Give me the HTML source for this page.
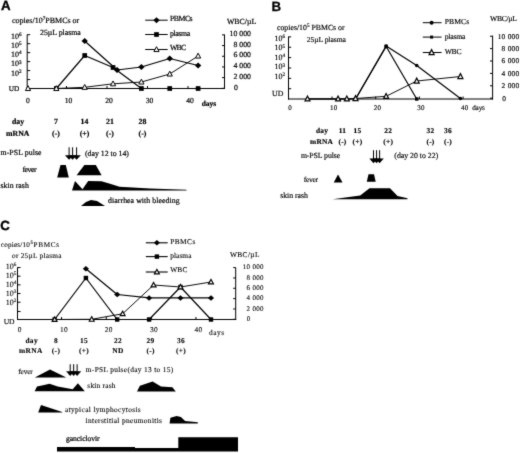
<!DOCTYPE html>
<html><head><meta charset="utf-8"><title>Figure</title>
<style>
html,body{margin:0;padding:0;background:#fff;}
svg{display:block;}
text{text-rendering:geometricPrecision;}
.ff-s{font-family:"Liberation Serif",serif;}
.ff-a{font-family:"Liberation Sans",sans-serif;}
text{fill:#000;}
</style></head><body>
<svg width="520" height="453" viewBox="0 0 520 453">
<defs><filter id="soft" x="0" y="0" width="520" height="453" filterUnits="userSpaceOnUse" color-interpolation-filters="sRGB"><feConvolveMatrix order="3" kernelMatrix="0.02 0.08 0.02 0.08 0.6 0.08 0.02 0.08 0.02" edgeMode="duplicate" preserveAlpha="false"/></filter></defs>
<g filter="url(#soft)">
<rect width="520" height="453" fill="#fff"/>
<text x="1" y="10.1" font-size="13.3" text-anchor="start" class="ff-a" font-weight="bold" stroke="#000" stroke-width="0.35">A</text>
<text x="12" y="22.5" font-size="8" class="ff-s" stroke="#000" stroke-width="0.2">copies/10<tspan font-size="5.2" dy="-3">7</tspan><tspan dy="3">PBMCs or</tspan></text>
<text x="40" y="34.5" font-size="7.8" text-anchor="start" class="ff-s" stroke="#000" stroke-width="0.2">25µL plasma</text>
<line x1="27.2" y1="34.5" x2="27.2" y2="89.0" stroke="#000" stroke-width="1"/>
<line x1="27" y1="88.5" x2="225" y2="88.5" stroke="#000" stroke-width="1"/>
<line x1="224.5" y1="34.5" x2="224.5" y2="89.0" stroke="#000" stroke-width="1"/>
<text x="21.5" y="38.5" font-size="8" text-anchor="end" class="ff-s" stroke="#000" stroke-width="0.2">10<tspan font-size="5.2" dy="-2.8">6</tspan></text>
<text x="21.5" y="47.6" font-size="8" text-anchor="end" class="ff-s" stroke="#000" stroke-width="0.2">10<tspan font-size="5.2" dy="-2.8">5</tspan></text>
<text x="21.5" y="56.5" font-size="8" text-anchor="end" class="ff-s" stroke="#000" stroke-width="0.2">10<tspan font-size="5.2" dy="-2.8">4</tspan></text>
<text x="21.5" y="66.4" font-size="8" text-anchor="end" class="ff-s" stroke="#000" stroke-width="0.2">10<tspan font-size="5.2" dy="-2.8">3</tspan></text>
<text x="21.5" y="75.60000000000001" font-size="8" text-anchor="end" class="ff-s" stroke="#000" stroke-width="0.2">10<tspan font-size="5.2" dy="-2.8">2</tspan></text>
<line x1="27.2" y1="34.7" x2="30.2" y2="34.7" stroke="#000" stroke-width="1"/>
<line x1="27.2" y1="43.67" x2="30.2" y2="43.67" stroke="#000" stroke-width="1"/>
<line x1="27.2" y1="52.64" x2="30.2" y2="52.64" stroke="#000" stroke-width="1"/>
<line x1="27.2" y1="61.61000000000001" x2="30.2" y2="61.61000000000001" stroke="#000" stroke-width="1"/>
<line x1="27.2" y1="70.58000000000001" x2="30.2" y2="70.58000000000001" stroke="#000" stroke-width="1"/>
<line x1="27.2" y1="79.55000000000001" x2="30.2" y2="79.55000000000001" stroke="#000" stroke-width="1"/>
<text x="8.8" y="90.5" font-size="7.3" text-anchor="start" class="ff-s" letter-spacing="-0.144" stroke="#000" stroke-width="0.2">UD</text>
<line x1="66.5" y1="86.0" x2="66.5" y2="88.5" stroke="#000" stroke-width="1"/>
<line x1="107.0" y1="86.0" x2="107.0" y2="88.5" stroke="#000" stroke-width="1"/>
<line x1="147.5" y1="86.0" x2="147.5" y2="88.5" stroke="#000" stroke-width="1"/>
<line x1="188.0" y1="86.0" x2="188.0" y2="88.5" stroke="#000" stroke-width="1"/>
<text x="28.0" y="103" font-size="7.6" text-anchor="middle" class="ff-s" stroke="#000" stroke-width="0.2">0</text>
<text x="68.5" y="103" font-size="7.6" text-anchor="middle" class="ff-s" stroke="#000" stroke-width="0.2">10</text>
<text x="109.0" y="103" font-size="7.6" text-anchor="middle" class="ff-s" stroke="#000" stroke-width="0.2">20</text>
<text x="149.5" y="103" font-size="7.6" text-anchor="middle" class="ff-s" stroke="#000" stroke-width="0.2">30</text>
<text x="190.0" y="103" font-size="7.6" text-anchor="middle" class="ff-s" stroke="#000" stroke-width="0.2">40</text>
<text x="201.7" y="106.4" font-size="7.5" text-anchor="start" class="ff-s" font-weight="bold" stroke="#000" stroke-width="0.2">days</text>
<line x1="222" y1="34.9" x2="224.5" y2="34.9" stroke="#000" stroke-width="1"/>
<text x="251" y="36.1" font-size="7.8" text-anchor="end" class="ff-s" stroke="#000" stroke-width="0.2">10 000</text>
<line x1="222" y1="45.58" x2="224.5" y2="45.58" stroke="#000" stroke-width="1"/>
<text x="251" y="46.78" font-size="7.8" text-anchor="end" class="ff-s" stroke="#000" stroke-width="0.2">8 000</text>
<line x1="222" y1="56.26" x2="224.5" y2="56.26" stroke="#000" stroke-width="1"/>
<text x="251" y="57.46" font-size="7.8" text-anchor="end" class="ff-s" stroke="#000" stroke-width="0.2">6 000</text>
<line x1="222" y1="66.94" x2="224.5" y2="66.94" stroke="#000" stroke-width="1"/>
<text x="251" y="68.14" font-size="7.8" text-anchor="end" class="ff-s" stroke="#000" stroke-width="0.2">4 000</text>
<line x1="222" y1="77.62" x2="224.5" y2="77.62" stroke="#000" stroke-width="1"/>
<text x="251" y="78.82000000000001" font-size="7.8" text-anchor="end" class="ff-s" stroke="#000" stroke-width="0.2">2 000</text>
<line x1="222" y1="88.3" x2="224.5" y2="88.3" stroke="#000" stroke-width="1"/>
<text x="238" y="89.5" font-size="7.8" text-anchor="end" class="ff-s" stroke="#000" stroke-width="0.2">0</text>
<text x="227" y="23.5" font-size="7.8" text-anchor="start" class="ff-s" stroke="#000" stroke-width="0.2">WBC/µL</text>
<line x1="145.2" y1="20.2" x2="167.7" y2="20.2" stroke="#000" stroke-width="1.0"/>
<polygon points="153.3,20.2 156.5,17.2 159.7,20.2 156.5,23.2" fill="#000" stroke="none" stroke-width="1"/>
<text x="169.9" y="21.3" font-size="7.8" text-anchor="start" class="ff-s" letter-spacing="-0.487" stroke="#000" stroke-width="0.2">PBMCs</text>
<line x1="145.2" y1="34.5" x2="167.7" y2="34.5" stroke="#000" stroke-width="1.0"/>
<rect x="154.15" y="32.15" width="4.7" height="4.7" fill="#000"/>
<text x="169.9" y="35.6" font-size="7.8" text-anchor="start" class="ff-s" letter-spacing="-0.352" stroke="#000" stroke-width="0.2">plasma</text>
<line x1="145.2" y1="49.5" x2="167.7" y2="49.5" stroke="#000" stroke-width="1.0"/>
<polygon points="153.9,51.558 156.5,46.658 159.1,51.558" fill="#fff" stroke="#000" stroke-width="1.0"/>
<text x="169.9" y="49.9" font-size="7.8" text-anchor="start" class="ff-s" letter-spacing="-0.711" stroke="#000" stroke-width="0.2">WBC</text>
<polyline points="56.349999999999994,88.5 84.69999999999999,55.5 113.05,67.5 141.39999999999998,88.5 169.75,88.5 198.1,88.5" fill="none" stroke="#000" stroke-width="1.2" stroke-linejoin="round"/>
<polyline points="84.69999999999999,41 117.1,70 141.39999999999998,67 169.75,58.5 198.1,65.5" fill="none" stroke="#000" stroke-width="1.2" stroke-linejoin="round"/>
<polyline points="28.0,88.5 56.349999999999994,88.5 84.69999999999999,87.3 113.05,83.8 141.39999999999998,82 169.75,74 198.1,56" fill="none" stroke="#000" stroke-width="0.95" stroke-linejoin="round"/>
<rect x="53.99999999999999" y="86.15" width="4.7" height="4.7" fill="#000"/>
<rect x="82.35" y="53.15" width="4.7" height="4.7" fill="#000"/>
<rect x="110.7" y="65.15" width="4.7" height="4.7" fill="#000"/>
<rect x="139.04999999999998" y="86.15" width="4.7" height="4.7" fill="#000"/>
<rect x="167.4" y="86.15" width="4.7" height="4.7" fill="#000"/>
<rect x="195.75" y="86.15" width="4.7" height="4.7" fill="#000"/>
<polygon points="81.49999999999999,41 84.69999999999999,38.0 87.89999999999999,41 84.69999999999999,44.0" fill="#000" stroke="none" stroke-width="1"/>
<polygon points="113.89999999999999,70 117.1,67.0 120.3,70 117.1,73.0" fill="#000" stroke="none" stroke-width="1"/>
<polygon points="138.2,67 141.39999999999998,64.0 144.59999999999997,67 141.39999999999998,70.0" fill="#000" stroke="none" stroke-width="1"/>
<polygon points="166.55,58.5 169.75,55.5 172.95,58.5 169.75,61.5" fill="#000" stroke="none" stroke-width="1"/>
<polygon points="194.9,65.5 198.1,62.5 201.29999999999998,65.5 198.1,68.5" fill="#000" stroke="none" stroke-width="1"/>
<polygon points="25.4,90.558 28.0,85.658 30.6,90.558" fill="#fff" stroke="#000" stroke-width="1.0"/>
<polygon points="53.74999999999999,90.558 56.349999999999994,85.658 58.949999999999996,90.558" fill="#fff" stroke="#000" stroke-width="1.0"/>
<polygon points="82.1,89.358 84.69999999999999,84.458 87.29999999999998,89.358" fill="#fff" stroke="#000" stroke-width="1.0"/>
<polygon points="110.45,85.858 113.05,80.958 115.64999999999999,85.858" fill="#fff" stroke="#000" stroke-width="1.0"/>
<polygon points="138.79999999999998,84.058 141.39999999999998,79.158 143.99999999999997,84.058" fill="#fff" stroke="#000" stroke-width="1.0"/>
<polygon points="167.15,76.058 169.75,71.158 172.35,76.058" fill="#fff" stroke="#000" stroke-width="1.0"/>
<polygon points="195.5,58.058 198.1,53.158 200.7,58.058" fill="#fff" stroke="#000" stroke-width="1.0"/>
<text x="12" y="124" font-size="7.8" text-anchor="start" class="ff-s" font-weight="bold" stroke="#000" stroke-width="0.2">day</text>
<text x="6" y="136.3" font-size="7.8" text-anchor="start" class="ff-s" font-weight="bold" stroke="#000" stroke-width="0.2">mRNA</text>
<text x="56" y="124" font-size="7.8" text-anchor="middle" class="ff-s" font-weight="bold" stroke="#000" stroke-width="0.2">7</text>
<text x="56" y="136.3" font-size="7.8" text-anchor="middle" class="ff-s" font-weight="bold" stroke="#000" stroke-width="0.2">(-)</text>
<text x="84.5" y="124" font-size="7.8" text-anchor="middle" class="ff-s" font-weight="bold" stroke="#000" stroke-width="0.2">14</text>
<text x="84.5" y="136.3" font-size="7.8" text-anchor="middle" class="ff-s" font-weight="bold" stroke="#000" stroke-width="0.2">(+)</text>
<text x="110" y="124" font-size="7.8" text-anchor="middle" class="ff-s" font-weight="bold" stroke="#000" stroke-width="0.2">21</text>
<text x="110" y="136.3" font-size="7.8" text-anchor="middle" class="ff-s" font-weight="bold" stroke="#000" stroke-width="0.2">(-)</text>
<text x="142.5" y="124" font-size="7.8" text-anchor="middle" class="ff-s" font-weight="bold" stroke="#000" stroke-width="0.2">28</text>
<text x="142.5" y="136.3" font-size="7.8" text-anchor="middle" class="ff-s" font-weight="bold" stroke="#000" stroke-width="0.2">(-)</text>
<text x="0.5" y="155.3" font-size="7.8" text-anchor="start" class="ff-s" letter-spacing="0.077" stroke="#000" stroke-width="0.2">m-PSL pulse</text>
<line x1="69.1" y1="147.3" x2="69.1" y2="156.20000000000002" stroke="#000" stroke-width="1"/>
<polygon points="64.89999999999999,155.20000000000002 73.3,155.20000000000002 69.1,159.8" fill="#000" stroke="none" stroke-width="1"/>
<line x1="72.6" y1="147.3" x2="72.6" y2="156.20000000000002" stroke="#000" stroke-width="1"/>
<polygon points="68.39999999999999,155.20000000000002 76.8,155.20000000000002 72.6,159.8" fill="#000" stroke="none" stroke-width="1"/>
<line x1="76.6" y1="147.3" x2="76.6" y2="156.20000000000002" stroke="#000" stroke-width="1"/>
<polygon points="72.39999999999999,155.20000000000002 80.8,155.20000000000002 76.6,159.8" fill="#000" stroke="none" stroke-width="1"/>
<text x="85" y="156" font-size="7.8" text-anchor="start" class="ff-s" stroke="#000" stroke-width="0.2">(day 12 to 14)</text>
<text x="22.4" y="172.3" font-size="7.8" text-anchor="start" class="ff-s" letter-spacing="-0.48" stroke="#000" stroke-width="0.2">fever</text>
<polygon points="57.2,177.4 60.5,165 65.8,165 68.8,177.4" fill="#000" stroke="none" stroke-width="1"/>
<polygon points="76.6,175.3 84.4,165 95.8,165 101.6,175.3" fill="#000" stroke="none" stroke-width="1"/>
<text x="0.5" y="188.1" font-size="7.8" text-anchor="start" class="ff-s" letter-spacing="0.044" stroke="#000" stroke-width="0.2">skin rash</text>
<polygon points="72,190.4 75,181 82.5,189.2 88.2,181 101.5,181.3 109.2,183.4 119.6,186.8 150,188.4 186.5,189.8 186.5,190.4" fill="#000" stroke="none" stroke-width="1"/>
<polygon points="81,206 86,202 91,200 97,201 105,206" fill="#000" stroke="none" stroke-width="1"/>
<text x="108.1" y="203" font-size="7.8" text-anchor="start" class="ff-s" letter-spacing="0.063" stroke="#000" stroke-width="0.2">diarrhea with bleeding</text>
<text x="271.5" y="10.8" font-size="13.3" text-anchor="start" class="ff-a" font-weight="bold" stroke="#000" stroke-width="0.25">B</text>
<text x="277" y="30.3" font-size="7.8" class="ff-s" stroke="#000" stroke-width="0.15">copies/10<tspan font-size="5.2" dy="-3">5</tspan><tspan dy="3"> PBMCs or</tspan></text>
<text x="306.7" y="41.8" font-size="7.6" text-anchor="start" class="ff-s" letter-spacing="-0.057" stroke="#000" stroke-width="0.15">25µL plasma</text>
<line x1="288.5" y1="36.5" x2="288.5" y2="99.5" stroke="#000" stroke-width="1"/>
<line x1="288" y1="99" x2="493" y2="99" stroke="#000" stroke-width="1"/>
<line x1="492.6" y1="35.7" x2="492.6" y2="99.5" stroke="#000" stroke-width="1"/>
<text x="285" y="41.2" font-size="8" text-anchor="end" class="ff-s" stroke="#000" stroke-width="0.15">10<tspan font-size="5.2" dy="-2.8">6</tspan></text>
<text x="285" y="50.300000000000004" font-size="8" text-anchor="end" class="ff-s" stroke="#000" stroke-width="0.15">10<tspan font-size="5.2" dy="-2.8">5</tspan></text>
<text x="285" y="59.800000000000004" font-size="8" text-anchor="end" class="ff-s" stroke="#000" stroke-width="0.15">10<tspan font-size="5.2" dy="-2.8">4</tspan></text>
<text x="285" y="69.39999999999999" font-size="8" text-anchor="end" class="ff-s" stroke="#000" stroke-width="0.15">10<tspan font-size="5.2" dy="-2.8">3</tspan></text>
<text x="285" y="78.5" font-size="8" text-anchor="end" class="ff-s" stroke="#000" stroke-width="0.15">10<tspan font-size="5.2" dy="-2.8">2</tspan></text>
<line x1="288.5" y1="36.9" x2="291.2" y2="36.9" stroke="#000" stroke-width="1"/>
<line x1="288.5" y1="47.26" x2="291.2" y2="47.26" stroke="#000" stroke-width="1"/>
<line x1="288.5" y1="57.62" x2="291.2" y2="57.62" stroke="#000" stroke-width="1"/>
<line x1="288.5" y1="67.97999999999999" x2="291.2" y2="67.97999999999999" stroke="#000" stroke-width="1"/>
<line x1="288.5" y1="78.34" x2="291.2" y2="78.34" stroke="#000" stroke-width="1"/>
<line x1="288.5" y1="88.69999999999999" x2="291.2" y2="88.69999999999999" stroke="#000" stroke-width="1"/>
<text x="272" y="96" font-size="7.8" text-anchor="start" class="ff-s" letter-spacing="0.234" stroke="#000" stroke-width="0.15">UD</text>
<line x1="332.0" y1="96.5" x2="332.0" y2="99" stroke="#000" stroke-width="1"/>
<line x1="375.7" y1="96.5" x2="375.7" y2="99" stroke="#000" stroke-width="1"/>
<line x1="419.40000000000003" y1="96.5" x2="419.40000000000003" y2="99" stroke="#000" stroke-width="1"/>
<line x1="463.1" y1="96.5" x2="463.1" y2="99" stroke="#000" stroke-width="1"/>
<text x="290.0" y="110" font-size="7" text-anchor="middle" class="ff-s" letter-spacing="0.25" stroke="#000" stroke-width="0.15">0</text>
<text x="333.7" y="110" font-size="7" text-anchor="middle" class="ff-s" letter-spacing="0.25" stroke="#000" stroke-width="0.15">10</text>
<text x="377.4" y="110" font-size="7" text-anchor="middle" class="ff-s" letter-spacing="0.25" stroke="#000" stroke-width="0.15">20</text>
<text x="421.1" y="110" font-size="7" text-anchor="middle" class="ff-s" letter-spacing="0.25" stroke="#000" stroke-width="0.15">30</text>
<text x="464.8" y="110" font-size="7" text-anchor="middle" class="ff-s" letter-spacing="0.25" stroke="#000" stroke-width="0.15">40</text>
<text x="472.2" y="109.8" font-size="7.2" text-anchor="start" class="ff-s" letter-spacing="-0.166" stroke="#000" stroke-width="0.15">days</text>
<line x1="490" y1="36.2" x2="492.6" y2="36.2" stroke="#000" stroke-width="1"/>
<text x="519.5" y="38.6" font-size="7.4" text-anchor="end" class="ff-s" letter-spacing="0.25" stroke="#000" stroke-width="0.15">10 000</text>
<line x1="490" y1="48.6" x2="492.6" y2="48.6" stroke="#000" stroke-width="1"/>
<text x="519.5" y="51.0" font-size="7.4" text-anchor="end" class="ff-s" letter-spacing="0.25" stroke="#000" stroke-width="0.15">8 000</text>
<line x1="490" y1="61.00000000000001" x2="492.6" y2="61.00000000000001" stroke="#000" stroke-width="1"/>
<text x="519.5" y="63.400000000000006" font-size="7.4" text-anchor="end" class="ff-s" letter-spacing="0.25" stroke="#000" stroke-width="0.15">6 000</text>
<line x1="490" y1="73.4" x2="492.6" y2="73.4" stroke="#000" stroke-width="1"/>
<text x="519.5" y="75.80000000000001" font-size="7.4" text-anchor="end" class="ff-s" letter-spacing="0.25" stroke="#000" stroke-width="0.15">4 000</text>
<line x1="490" y1="85.8" x2="492.6" y2="85.8" stroke="#000" stroke-width="1"/>
<text x="519.5" y="88.2" font-size="7.4" text-anchor="end" class="ff-s" letter-spacing="0.25" stroke="#000" stroke-width="0.15">2 000</text>
<line x1="490" y1="98.2" x2="492.6" y2="98.2" stroke="#000" stroke-width="1"/>
<text x="506.2" y="100.60000000000001" font-size="7.4" text-anchor="end" class="ff-s" letter-spacing="0.25" stroke="#000" stroke-width="0.15">0</text>
<text x="490" y="20.6" font-size="7.6" text-anchor="start" class="ff-s" letter-spacing="-0.289" stroke="#000" stroke-width="0.15">WBC/µL</text>
<line x1="422.8" y1="22.7" x2="441.6" y2="22.7" stroke="#000" stroke-width="1.0"/>
<circle cx="431.6" cy="22.7" r="2" fill="#000"/>
<text x="444.7" y="24.3" font-size="7.6" text-anchor="start" class="ff-s" letter-spacing="0.13" stroke="#000" stroke-width="0.15">PBMCs</text>
<line x1="422.8" y1="37.1" x2="441.6" y2="37.1" stroke="#000" stroke-width="1.0"/>
<rect x="430.1" y="35.6" width="3.0" height="3.0" fill="#000"/>
<text x="444.7" y="38.8" font-size="7.6" text-anchor="start" class="ff-s" letter-spacing="-0.165" stroke="#000" stroke-width="0.15">plasma</text>
<line x1="422.8" y1="52.5" x2="441.6" y2="52.5" stroke="#000" stroke-width="1.0"/>
<polygon points="429.1,54.558 431.6,49.658 434.1,54.558" fill="#fff" stroke="#000" stroke-width="1.2"/>
<text x="444.7" y="53.7" font-size="7.6" text-anchor="start" class="ff-s" letter-spacing="-0.256" stroke="#000" stroke-width="0.15">WBC</text>
<polyline points="355.55,99 386.14,46.5 416.73,99" fill="none" stroke="#000" stroke-width="1.2" stroke-linejoin="round"/>
<polyline points="307.48,99 338.07,99 346.81,99 355.55,99 386.14,46 416.73,65.5 460.43,98.5" fill="none" stroke="#000" stroke-width="1.2" stroke-linejoin="round"/>
<polyline points="307.48,98.9 338.07,98.9 346.81,98.9 355.55,98.5 386.14,96.3 416.73,81 460.43,76.5" fill="none" stroke="#000" stroke-width="0.95" stroke-linejoin="round"/>
<rect x="353.85" y="97.3" width="3.4" height="3.4" fill="#000"/>
<rect x="384.44" y="44.8" width="3.4" height="3.4" fill="#000"/>
<rect x="415.03000000000003" y="97.3" width="3.4" height="3.4" fill="#000"/>
<circle cx="307.48" cy="99" r="1.8" fill="#000"/>
<circle cx="338.07" cy="99" r="1.8" fill="#000"/>
<circle cx="346.81" cy="99" r="1.8" fill="#000"/>
<circle cx="355.55" cy="99" r="1.8" fill="#000"/>
<circle cx="386.14" cy="46" r="1.8" fill="#000"/>
<circle cx="416.73" cy="65.5" r="1.8" fill="#000"/>
<circle cx="460.43" cy="98.5" r="1.8" fill="#000"/>
<polygon points="304.98,100.95800000000001 307.48,96.058 309.98,100.95800000000001" fill="#fff" stroke="#000" stroke-width="1.2"/>
<polygon points="335.57,100.95800000000001 338.07,96.058 340.57,100.95800000000001" fill="#fff" stroke="#000" stroke-width="1.2"/>
<polygon points="344.31,100.95800000000001 346.81,96.058 349.31,100.95800000000001" fill="#fff" stroke="#000" stroke-width="1.2"/>
<polygon points="353.05,100.558 355.55,95.658 358.05,100.558" fill="#fff" stroke="#000" stroke-width="1.2"/>
<polygon points="383.64,98.358 386.14,93.458 388.64,98.358" fill="#fff" stroke="#000" stroke-width="1.2"/>
<polygon points="414.23,83.058 416.73,78.158 419.23,83.058" fill="#fff" stroke="#000" stroke-width="1.2"/>
<polygon points="457.93,78.558 460.43,73.658 462.93,78.558" fill="#fff" stroke="#000" stroke-width="1.2"/>
<text x="316" y="133" font-size="7.4" text-anchor="start" class="ff-s" font-weight="bold" letter-spacing="0.25" stroke="#000" stroke-width="0.15">day</text>
<text x="310" y="144.3" font-size="7.4" text-anchor="start" class="ff-s" font-weight="bold" letter-spacing="0.25" stroke="#000" stroke-width="0.15">mRNA</text>
<text x="342.5" y="133" font-size="7.4" text-anchor="middle" class="ff-s" font-weight="bold" letter-spacing="0.25" stroke="#000" stroke-width="0.15">11</text>
<text x="342.5" y="144.3" font-size="7.4" text-anchor="middle" class="ff-s" font-weight="bold" letter-spacing="0.25" stroke="#000" stroke-width="0.15">(-)</text>
<text x="357.5" y="133" font-size="7.4" text-anchor="middle" class="ff-s" font-weight="bold" letter-spacing="0.25" stroke="#000" stroke-width="0.15">15</text>
<text x="357.5" y="144.3" font-size="7.4" text-anchor="middle" class="ff-s" font-weight="bold" letter-spacing="0.25" stroke="#000" stroke-width="0.15">(+)</text>
<text x="388.2" y="133" font-size="7.4" text-anchor="middle" class="ff-s" font-weight="bold" letter-spacing="0.25" stroke="#000" stroke-width="0.15">22</text>
<text x="388.2" y="144.3" font-size="7.4" text-anchor="middle" class="ff-s" font-weight="bold" letter-spacing="0.25" stroke="#000" stroke-width="0.15">(+)</text>
<text x="430.5" y="133" font-size="7.4" text-anchor="middle" class="ff-s" font-weight="bold" letter-spacing="0.25" stroke="#000" stroke-width="0.15">32</text>
<text x="430.5" y="144.3" font-size="7.4" text-anchor="middle" class="ff-s" font-weight="bold" letter-spacing="0.25" stroke="#000" stroke-width="0.15">(-)</text>
<text x="448" y="133" font-size="7.4" text-anchor="middle" class="ff-s" font-weight="bold" letter-spacing="0.25" stroke="#000" stroke-width="0.15">36</text>
<text x="448" y="144.3" font-size="7.4" text-anchor="middle" class="ff-s" font-weight="bold" letter-spacing="0.25" stroke="#000" stroke-width="0.15">(-)</text>
<text x="300.9" y="158" font-size="7.8" text-anchor="start" class="ff-s" letter-spacing="-0.093" stroke="#000" stroke-width="0.15">m-PSL pulse</text>
<line x1="373.5" y1="150.2" x2="373.5" y2="159.6" stroke="#000" stroke-width="1"/>
<polygon points="369.3,158.6 377.7,158.6 373.5,163.2" fill="#000" stroke="none" stroke-width="1"/>
<line x1="376.55" y1="150.2" x2="376.55" y2="159.6" stroke="#000" stroke-width="1"/>
<polygon points="372.35,158.6 380.75,158.6 376.55,163.2" fill="#000" stroke="none" stroke-width="1"/>
<line x1="379.6" y1="150.2" x2="379.6" y2="159.6" stroke="#000" stroke-width="1"/>
<polygon points="375.40000000000003,158.6 383.8,158.6 379.6,163.2" fill="#000" stroke="none" stroke-width="1"/>
<text x="394.3" y="158" font-size="7.8" text-anchor="start" class="ff-s" letter-spacing="0.0001" stroke="#000" stroke-width="0.15">(day 20 to 22)</text>
<text x="303.7" y="181.8" font-size="7.6" text-anchor="start" class="ff-s" letter-spacing="-0.327" stroke="#000" stroke-width="0.15">fever</text>
<polygon points="333.75,182.5 338,174.5 342.5,182.5" fill="#000" stroke="none" stroke-width="1"/>
<polygon points="366.8,181.8 368.5,174.3 374,174.3 375.7,181.8" fill="#000" stroke="none" stroke-width="1"/>
<text x="280.2" y="198" font-size="7.8" text-anchor="start" class="ff-s" letter-spacing="-0.043" stroke="#000" stroke-width="0.15">skin rash</text>
<polygon points="332.5,199.2 360.2,195.4 369.5,188.2 390,188.2 397.5,196 407.5,198.2 407.5,199.2" fill="#000" stroke="none" stroke-width="1"/>
<text x="0.2" y="230.2" font-size="13.3" text-anchor="start" class="ff-a" font-weight="bold" stroke="#000" stroke-width="0.35">C</text>
<text x="0.8" y="246.8" font-size="7.2" text-anchor="start" class="ff-s" letter-spacing="0.201" stroke="#000" stroke-width="0.1">copies/10</text>
<text x="30.5" y="244" font-size="4.8" text-anchor="start" class="ff-s" stroke="#000" stroke-width="0.1">5</text>
<text x="33.5" y="246.8" font-size="7.2" text-anchor="start" class="ff-s" letter-spacing="0.722" stroke="#000" stroke-width="0.1">PBMCs</text>
<text x="12" y="257.5" font-size="7.3" text-anchor="start" class="ff-s" letter-spacing="0.261" stroke="#000" stroke-width="0.1">or 25µL plasma</text>
<line x1="17.5" y1="267.3" x2="17.5" y2="320.0" stroke="#000" stroke-width="1"/>
<line x1="17.5" y1="319.5" x2="236.2" y2="319.5" stroke="#000" stroke-width="1"/>
<line x1="235.7" y1="267.5" x2="235.7" y2="320.0" stroke="#000" stroke-width="1"/>
<text x="16.4" y="268.6" font-size="8" text-anchor="end" class="ff-s" stroke="#000" stroke-width="0.1">10<tspan font-size="5.2" dy="-2.8">6</tspan></text>
<text x="16.4" y="278.1" font-size="8" text-anchor="end" class="ff-s" stroke="#000" stroke-width="0.1">10<tspan font-size="5.2" dy="-2.8">5</tspan></text>
<text x="16.4" y="286.6" font-size="8" text-anchor="end" class="ff-s" stroke="#000" stroke-width="0.1">10<tspan font-size="5.2" dy="-2.8">4</tspan></text>
<text x="16.4" y="296.1" font-size="8" text-anchor="end" class="ff-s" stroke="#000" stroke-width="0.1">10<tspan font-size="5.2" dy="-2.8">3</tspan></text>
<text x="16.4" y="304.6" font-size="8" text-anchor="end" class="ff-s" stroke="#000" stroke-width="0.1">10<tspan font-size="5.2" dy="-2.8">2</tspan></text>
<line x1="17.5" y1="267.5" x2="20.5" y2="267.5" stroke="#000" stroke-width="1"/>
<line x1="17.5" y1="276.18" x2="20.5" y2="276.18" stroke="#000" stroke-width="1"/>
<line x1="17.5" y1="284.86" x2="20.5" y2="284.86" stroke="#000" stroke-width="1"/>
<line x1="17.5" y1="293.54" x2="20.5" y2="293.54" stroke="#000" stroke-width="1"/>
<line x1="17.5" y1="302.22" x2="20.5" y2="302.22" stroke="#000" stroke-width="1"/>
<text x="3.8" y="323.8" font-size="7.6" text-anchor="start" class="ff-s" letter-spacing="-0.177" stroke="#000" stroke-width="0.1">UD</text>
<line x1="17.5" y1="311.5" x2="20.5" y2="311.5" stroke="#000" stroke-width="1"/>
<line x1="61.542857142857144" y1="317.0" x2="61.542857142857144" y2="319.5" stroke="#000" stroke-width="1"/>
<line x1="106.25714285714287" y1="317.0" x2="106.25714285714287" y2="319.5" stroke="#000" stroke-width="1"/>
<line x1="151.5857142857143" y1="317.0" x2="151.5857142857143" y2="319.5" stroke="#000" stroke-width="1"/>
<line x1="195.92857142857142" y1="317.0" x2="195.92857142857142" y2="319.5" stroke="#000" stroke-width="1"/>
<text x="19.7" y="332.2" font-size="7.4" text-anchor="middle" class="ff-s" letter-spacing="0.35" stroke="#000" stroke-width="0.1">0</text>
<text x="64.04285714285714" y="332.2" font-size="7.4" text-anchor="middle" class="ff-s" letter-spacing="0.35" stroke="#000" stroke-width="0.1">10</text>
<text x="108.75714285714287" y="332.2" font-size="7.4" text-anchor="middle" class="ff-s" letter-spacing="0.35" stroke="#000" stroke-width="0.1">20</text>
<text x="154.0857142857143" y="332.2" font-size="7.4" text-anchor="middle" class="ff-s" letter-spacing="0.35" stroke="#000" stroke-width="0.1">30</text>
<text x="198.42857142857142" y="332.2" font-size="7.4" text-anchor="middle" class="ff-s" letter-spacing="0.35" stroke="#000" stroke-width="0.1">40</text>
<text x="209" y="335" font-size="7.4" text-anchor="start" class="ff-s" letter-spacing="0.5" stroke="#000" stroke-width="0.1">days</text>
<line x1="233.2" y1="267.6" x2="235.7" y2="267.6" stroke="#000" stroke-width="1"/>
<text x="263.8" y="269.20000000000005" font-size="7.0" text-anchor="end" class="ff-s" letter-spacing="0.3" stroke="#000" stroke-width="0.1">10 000</text>
<line x1="233.2" y1="277.94" x2="235.7" y2="277.94" stroke="#000" stroke-width="1"/>
<text x="263.8" y="279.54" font-size="7.0" text-anchor="end" class="ff-s" letter-spacing="0.3" stroke="#000" stroke-width="0.1">8 000</text>
<line x1="233.2" y1="288.28000000000003" x2="235.7" y2="288.28000000000003" stroke="#000" stroke-width="1"/>
<text x="263.8" y="289.88000000000005" font-size="7.0" text-anchor="end" class="ff-s" letter-spacing="0.3" stroke="#000" stroke-width="0.1">6 000</text>
<line x1="233.2" y1="298.62" x2="235.7" y2="298.62" stroke="#000" stroke-width="1"/>
<text x="263.8" y="300.22" font-size="7.0" text-anchor="end" class="ff-s" letter-spacing="0.3" stroke="#000" stroke-width="0.1">4 000</text>
<line x1="233.2" y1="308.96000000000004" x2="235.7" y2="308.96000000000004" stroke="#000" stroke-width="1"/>
<text x="263.8" y="310.56000000000006" font-size="7.0" text-anchor="end" class="ff-s" letter-spacing="0.3" stroke="#000" stroke-width="0.1">2 000</text>
<line x1="233.2" y1="319.3" x2="235.7" y2="319.3" stroke="#000" stroke-width="1"/>
<text x="250.2" y="320.90000000000003" font-size="7.0" text-anchor="end" class="ff-s" stroke="#000" stroke-width="0.1">0</text>
<text x="230" y="256.5" font-size="7.4" text-anchor="start" class="ff-s" letter-spacing="0.35" stroke="#000" stroke-width="0.1">WBC/µL</text>
<line x1="145.8" y1="242.8" x2="167.7" y2="242.8" stroke="#000" stroke-width="1.1"/>
<polygon points="153.8,242.8 156.9,240.05 160.0,242.8 156.9,245.55" fill="#000" stroke="none" stroke-width="1"/>
<text x="170.2" y="244.2" font-size="7.4" text-anchor="start" class="ff-s" letter-spacing="0.438" stroke="#000" stroke-width="0.1">PBMCs</text>
<line x1="145.8" y1="256.6" x2="167.7" y2="256.6" stroke="#000" stroke-width="1.1"/>
<rect x="154.70000000000002" y="254.40000000000003" width="4.4" height="4.4" fill="#000"/>
<text x="170.2" y="258.2" font-size="7.4" text-anchor="start" class="ff-s" letter-spacing="0.068" stroke="#000" stroke-width="0.1">plasma</text>
<line x1="145.8" y1="272" x2="167.7" y2="272" stroke="#000" stroke-width="1.1"/>
<polygon points="154.4,273.89 156.9,269.39 159.4,273.89" fill="#fff" stroke="#000" stroke-width="1.1"/>
<text x="170.2" y="272.4" font-size="7.4" text-anchor="start" class="ff-s" letter-spacing="0.172" stroke="#000" stroke-width="0.1">WBC</text>
<polyline points="54.6,319.5 85.9,278 117.2,319.5 149.1,319.5 180.5,287 211.0,319.5" fill="none" stroke="#000" stroke-width="1.2" stroke-linejoin="round"/>
<polyline points="85.9,268.75 117.2,294.5 149.1,297.9 180.5,297.9 211.0,297.9" fill="none" stroke="#000" stroke-width="1.2" stroke-linejoin="round"/>
<polyline points="54.6,319.5 91.71285714285715,319.3 122.66857142857143,313.75 153.5857142857143,285 180.5,287 211.0,282" fill="none" stroke="#000" stroke-width="0.95" stroke-linejoin="round"/>
<rect x="52.4" y="317.3" width="4.4" height="4.4" fill="#000"/>
<rect x="83.7" y="275.8" width="4.4" height="4.4" fill="#000"/>
<rect x="115.0" y="317.3" width="4.4" height="4.4" fill="#000"/>
<rect x="146.9" y="317.3" width="4.4" height="4.4" fill="#000"/>
<rect x="178.3" y="284.8" width="4.4" height="4.4" fill="#000"/>
<rect x="208.8" y="317.3" width="4.4" height="4.4" fill="#000"/>
<polygon points="82.80000000000001,268.75 85.9,266.0 89.0,268.75 85.9,271.5" fill="#000" stroke="none" stroke-width="1"/>
<polygon points="114.10000000000001,294.5 117.2,291.75 120.3,294.5 117.2,297.25" fill="#000" stroke="none" stroke-width="1"/>
<polygon points="146.0,297.9 149.1,295.15 152.2,297.9 149.1,300.65" fill="#000" stroke="none" stroke-width="1"/>
<polygon points="177.4,297.9 180.5,295.15 183.6,297.9 180.5,300.65" fill="#000" stroke="none" stroke-width="1"/>
<polygon points="207.9,297.9 211.0,295.15 214.1,297.9 211.0,300.65" fill="#000" stroke="none" stroke-width="1"/>
<polygon points="52.1,321.39 54.6,316.89 57.1,321.39" fill="#fff" stroke="#000" stroke-width="1.1"/>
<polygon points="89.21285714285715,321.19 91.71285714285715,316.69 94.21285714285715,321.19" fill="#fff" stroke="#000" stroke-width="1.1"/>
<polygon points="120.16857142857143,315.64 122.66857142857143,311.14 125.16857142857143,315.64" fill="#fff" stroke="#000" stroke-width="1.1"/>
<polygon points="151.0857142857143,286.89 153.5857142857143,282.39 156.0857142857143,286.89" fill="#fff" stroke="#000" stroke-width="1.1"/>
<polygon points="178.0,288.89 180.5,284.39 183.0,288.89" fill="#fff" stroke="#000" stroke-width="1.1"/>
<polygon points="208.5,283.89 211.0,279.39 213.5,283.89" fill="#fff" stroke="#000" stroke-width="1.1"/>
<text x="25.4" y="343.4" font-size="7.4" text-anchor="start" class="ff-s" font-weight="bold" letter-spacing="0.35" stroke="#000" stroke-width="0.1">day</text>
<text x="19" y="353.2" font-size="7.4" text-anchor="start" class="ff-s" font-weight="bold" letter-spacing="0.35" stroke="#000" stroke-width="0.1">mRNA</text>
<text x="56" y="343.4" font-size="7.4" text-anchor="middle" class="ff-s" font-weight="bold" letter-spacing="0.35" stroke="#000" stroke-width="0.1">8</text>
<text x="56" y="353.2" font-size="7.4" text-anchor="middle" class="ff-s" font-weight="bold" letter-spacing="0.35" stroke="#000" stroke-width="0.1">(-)</text>
<text x="84" y="343.4" font-size="7.4" text-anchor="middle" class="ff-s" font-weight="bold" letter-spacing="0.35" stroke="#000" stroke-width="0.1">15</text>
<text x="84" y="353.2" font-size="7.4" text-anchor="middle" class="ff-s" font-weight="bold" letter-spacing="0.35" stroke="#000" stroke-width="0.1">(+)</text>
<text x="118" y="343.4" font-size="7.4" text-anchor="middle" class="ff-s" font-weight="bold" letter-spacing="0.35" stroke="#000" stroke-width="0.1">22</text>
<text x="118" y="353.2" font-size="7.4" text-anchor="middle" class="ff-s" font-weight="bold" letter-spacing="0.35" stroke="#000" stroke-width="0.1">ND</text>
<text x="150.6" y="343.4" font-size="7.4" text-anchor="middle" class="ff-s" font-weight="bold" letter-spacing="0.35" stroke="#000" stroke-width="0.1">29</text>
<text x="150.6" y="353.2" font-size="7.4" text-anchor="middle" class="ff-s" font-weight="bold" letter-spacing="0.35" stroke="#000" stroke-width="0.1">(-)</text>
<text x="181" y="343.4" font-size="7.4" text-anchor="middle" class="ff-s" font-weight="bold" letter-spacing="0.35" stroke="#000" stroke-width="0.1">36</text>
<text x="181" y="353.2" font-size="7.4" text-anchor="middle" class="ff-s" font-weight="bold" letter-spacing="0.35" stroke="#000" stroke-width="0.1">(+)</text>
<text x="18.3" y="374" font-size="7.4" text-anchor="start" class="ff-s" letter-spacing="-0.199" stroke="#000" stroke-width="0.1">fever</text>
<polygon points="34.8,377.4 50,369.5 66.3,377.4" fill="#000" stroke="none" stroke-width="1"/>
<line x1="70.2" y1="364.2" x2="70.2" y2="372.3" stroke="#000" stroke-width="1"/>
<polygon points="66.10000000000001,371.3 74.3,371.3 70.2,376.1" fill="#000" stroke="none" stroke-width="1"/>
<line x1="73.65" y1="364.2" x2="73.65" y2="372.3" stroke="#000" stroke-width="1"/>
<polygon points="69.55000000000001,371.3 77.75,371.3 73.65,376.1" fill="#000" stroke="none" stroke-width="1"/>
<line x1="77.1" y1="364.2" x2="77.1" y2="372.3" stroke="#000" stroke-width="1"/>
<polygon points="73.0,371.3 81.19999999999999,371.3 77.1,376.1" fill="#000" stroke="none" stroke-width="1"/>
<text x="85.8" y="371.6" font-size="7.4" text-anchor="start" class="ff-s" letter-spacing="0.317" stroke="#000" stroke-width="0.1">m-PSL pulse(day 13 to 15)</text>
<polygon points="34.6,391.2 37,386.6 43,385.2 49.5,383.8 57.7,386.4 72.7,389.2 77.9,383.3 84.8,391.2" fill="#000" stroke="none" stroke-width="1"/>
<text x="87.3" y="388" font-size="7.4" text-anchor="start" class="ff-s" letter-spacing="0.223" stroke="#000" stroke-width="0.1">skin rash</text>
<polygon points="137,391.4 139.9,385.8 152.6,381.5 161,386.6 172.4,387.2 175.8,391.4" fill="#000" stroke="none" stroke-width="1"/>
<polygon points="38.2,412.6 41,405 62.2,412 62.2,412.6" fill="#000" stroke="none" stroke-width="1"/>
<text x="65" y="411.5" font-size="7.4" text-anchor="start" class="ff-s" letter-spacing="0.35" stroke="#000" stroke-width="0.1">atypical lymphocytosis</text>
<text x="85.6" y="423" font-size="7.4" text-anchor="start" class="ff-s" letter-spacing="0.35" stroke="#000" stroke-width="0.1">interstitial pneumonitis</text>
<polygon points="169.6,423.4 170.4,417.7 176.6,416 180.9,417.1 185.1,421.1 197.8,422.2 197.8,423.4" fill="#000" stroke="none" stroke-width="1"/>
<text x="66" y="441.2" font-size="7.6" text-anchor="start" class="ff-s" letter-spacing="-0.059" stroke="#000" stroke-width="0.22">ganciclovir</text>
<polygon points="57,451.6 57,447 135,447 135,448 178.3,448 178.3,437.2 238,437.2 238,451.6" fill="#000" stroke="none" stroke-width="1"/>
</g>
</svg>
</body></html>
